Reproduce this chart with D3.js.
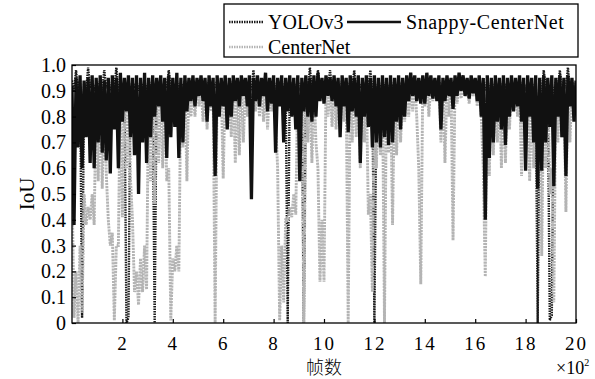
<!DOCTYPE html>
<html>
<head>
<meta charset="utf-8">
<script src="https://cdn.jsdelivr.net/npm/d3@7"></script>
<style>
  body { margin: 0; background: #fff; }
  text { font-family: "Liberation Serif", "Times New Roman", serif; fill: #000; }
</style>
</head>
<body>
<div id="chart"></div>
<script>
// one value every 8 frames, IoU in percent
const frameStep = 8;

const yolov3 = [
  94,90,98,90,94,2,93,90,99,91, 94,90,93,91,94,90,98,91,93,90,
  94,91,99,90,93,91,94,0,2,90, 94,91,93,90,94,91,93,90,94,91,
  93,0,94,91,93,90,94,91,98,90, 93,91,94,90,93,91,94,90,93,91,
  94,90,93,91,94,90,93,91,94,90, 93,91,94,90,93,91,94,90,93,91,
  94,90,93,91,94,90,93,91,94,90, 98,91,94,90,93,91,94,90,93,91,
  94,90,93,91,94,90,93,0,94,91, 93,90,94,91,93,0,94,90,99,91,
  94,90,98,91,94,90,93,91,98,90, 94,91,93,90,94,91,93,90,94,91,
  98,90,94,91,93,90,94,91,98,90, 0,91,93,90,94,91,93,90,94,91,
  93,90,94,91,93,90,94,91,93,90, 94,91,93,90,94,91,93,90,94,91,
  93,90,94,91,93,90,94,91,93,90, 94,91,93,90,94,91,93,90,94,91,
  93,90,94,91,93,90,94,91,93,90, 94,91,93,90,94,91,93,90,94,91,
  93,90,94,91,93,90,94,91,93,90, 94,0,93,90,98,91,93,1,3,90,
  94,91,98,90,94,91,99,90,94,91, 93
];

const centerNet = [
  55,2,20,0,30,4,50,38,45,40, 50,38,90,55,92,52,90,58,40,30,
  35,1,30,30,93,41,92,60,93,56, 40,12,20,7,25,12,30,13,92,55,
  93,46,92,62,93,60,92,55,60,1, 25,20,30,20,92,68,93,55,94,80,
  93,80,94,84,93,78,94,75,93,82, 92,0,93,80,92,56,94,78,93,72,
  94,62,93,65,94,70,93,80,94,76, 93,82,94,80,93,78,94,75,93,82,
  94,78,60,1,30,8,40,40,45,41, 50,42,93,60,92,0,93,70,92,62,
  93,70,60,16,40,16,93,80,94,76, 93,75,94,82,93,78,92,0,93,70,
  94,72,93,60,94,70,93,42,50,12, 92,60,93,65,92,0,93,66,92,38,
  93,65,94,70,93,78,94,80,93,82, 94,80,60,15,93,84,94,80,93,86,
  94,88,93,70,94,62,93,80,94,32, 93,85,94,87,93,88,94,85,93,88,
  94,84,93,80,60,18,93,57,94,65, 93,70,94,60,93,62,94,75,93,82,
  94,80,93,57,94,70,93,55,94,60, 93,60,94,26,93,60,94,50,60,8,
  93,70,94,72,93,43,94,70,93,80, 93
];

const snappy = [
  92,38,95,68,96,60,94,72,95,62, 96,60,95,70,96,66,94,63,95,58,
  96,75,95,60,97,78,95,82,96,72, 95,65,96,50,95,70,97,62,95,72,
  96,80,95,84,96,78,95,64,96,72, 95,76,97,64,95,70,96,82,95,86,
  96,84,95,88,96,86,95,78,96,84, 95,57,96,80,95,84,96,75,95,80,
  96,86,95,84,96,88,95,84,96,48, 95,86,96,84,95,88,97,82,95,85,
  96,66,95,84,96,70,95,82,96,80, 95,75,96,55,95,82,96,80,95,78,
  96,80,97,86,95,85,96,88,95,86, 96,84,95,72,96,84,95,74,96,82,
  95,80,96,62,95,80,96,76,95,68, 96,70,95,68,96,72,95,69,96,70,
  95,78,96,75,95,80,96,86,97,88, 96,86,95,85,96,85,97,88,96,87,
  95,86,96,75,95,86,96,88,95,83, 96,88,97,90,96,88,95,87,96,89,
  95,86,96,80,95,40,96,64,95,70, 96,78,95,75,96,69,95,80,96,82,
  95,84,96,78,95,59,96,80,95,70, 96,52,95,59,96,70,95,76,96,53,
  95,80,96,72,95,57,96,84,95,78, 94
];

const xTickValues = [200, 400, 600, 800, 1000, 1200, 1400, 1600, 1800, 2000];
const xTickLabels = ["2", "4", "6", "8", "10", "12", "14", "16", "18", "20"];
const yTickValues = [0, 10, 20, 30, 40, 50, 60, 70, 80, 90, 100];
const yTickLabels = ["0", "0.1", "0.2", "0.3", "0.4", "0.5", "0.6", "0.7", "0.8", "0.9", "1.0"];

const legendNames = ["YOLOv3", "Snappy-CenterNet", "CenterNet"];

const width = 595;
const height = 379;
const margin = { top: 65, right: 19, bottom: 56, left: 72 };
const w = width - margin.left - margin.right;
const h = height - margin.top - margin.bottom;

const svg = d3.select("#chart").append("svg")
  .attr("width", width)
  .attr("height", height);

const g = svg.append("g").attr("transform", `translate(${margin.left},${margin.top})`);

const x = d3.scaleLinear().domain([0, 2000]).range([0, w]);
const y = d3.scaleLinear().domain([0, 100]).range([h, 0]);

g.append("clipPath").attr("id", "plotclip")
  .append("rect").attr("width", w).attr("height", h);

const line = d3.line()
  .x((d, i) => x(i * frameStep))
  .y(d => y(d));

const plot = g.append("g").attr("clip-path", "url(#plotclip)");

// yolo first, centernet over it, snappy on top
plot.append("path")
  .datum(yolov3)
  .attr("fill", "none")
  .attr("stroke", "#1a1a1a")
  .attr("stroke-width", 2.4)
  .attr("stroke-dasharray", "1.5,1")
  .attr("d", line);

plot.append("path")
  .datum(centerNet)
  .attr("fill", "none")
  .attr("stroke", "#b4b4b4")
  .attr("stroke-width", 2.9)
  .attr("stroke-dasharray", "2.2,0.9")
  .attr("d", line);

plot.append("path")
  .datum(snappy)
  .attr("fill", "none")
  .attr("stroke", "#111")
  .attr("stroke-width", 3.3)
  .attr("d", line);

// axes, ticks pointing inward
const xAxis = d3.axisBottom(x)
  .tickValues(xTickValues)
  .tickFormat((d, i) => xTickLabels[i])
  .tickSizeInner(-4)
  .tickSizeOuter(0);

const gx = g.append("g")
  .attr("transform", `translate(0,${h})`)
  .call(xAxis);
gx.select(".domain").remove();
gx.selectAll("line").attr("stroke", "#000").attr("stroke-width", 1.2);
gx.selectAll("text")
  .attr("y", 27)
  .attr("dy", null)
  .attr("font-size", 19)
  .attr("letter-spacing", 2)
  .style("font-family", "Liberation Serif");

const yAxis = d3.axisLeft(y)
  .tickValues(yTickValues)
  .tickFormat((d, i) => yTickLabels[i])
  .tickSizeInner(-4)
  .tickSizeOuter(0);

const gy = g.append("g").call(yAxis);
gy.select(".domain").remove();
gy.selectAll("line").attr("stroke", "#000").attr("stroke-width", 1.2);
gy.selectAll("text")
  .attr("x", -6)
  .attr("font-size", 20)
  .style("font-family", "Liberation Serif");

g.append("rect")
  .attr("width", w)
  .attr("height", h)
  .attr("fill", "none")
  .attr("stroke", "#000")
  .attr("stroke-width", 1.3);

// axis titles
svg.append("text")
  .attr("transform", `translate(34,${margin.top + h / 2}) rotate(-90)`)
  .attr("text-anchor", "middle")
  .attr("font-size", 21)
  .text("IoU");

svg.append("text")
  .attr("x", margin.left + w / 2)
  .attr("y", 374)
  .attr("text-anchor", "middle")
  .attr("font-size", 18)
  .style("font-family", "'Noto Sans CJK SC'")
  .style("font-weight", 300)
  .text("帧数");

const mult = svg.append("text")
  .attr("x", 556)
  .attr("y", 374)
  .attr("font-size", 18);
mult.append("tspan").text("×10");
mult.append("tspan").attr("dy", -8).attr("font-size", 10).text("2");

// legend
const lg = svg.append("g");
lg.append("rect")
  .attr("x", 224).attr("y", 4)
  .attr("width", 354).attr("height", 53)
  .attr("fill", "#fff")
  .attr("stroke", "#000")
  .attr("stroke-width", 1.3);

const legendItems = [
  { name: legendNames[0], x: 229, y: 22, len: 34, color: "#1a1a1a", dash: "1.5,1", spacing: 0 },
  { name: legendNames[1], x: 347, y: 22, len: 54, color: "#111", dash: null, spacing: 0.6 },
  { name: legendNames[2], x: 229, y: 47, len: 34, color: "#b4b4b4", dash: "1.5,1", spacing: 0 }
];

legendItems.forEach(it => {
  lg.append("line")
    .attr("x1", it.x).attr("x2", it.x + it.len)
    .attr("y1", it.y).attr("y2", it.y)
    .attr("stroke", it.color)
    .attr("stroke-width", 2.5)
    .attr("stroke-dasharray", it.dash);
  lg.append("text")
    .attr("x", it.x + it.len + 5)
    .attr("y", it.y + 7)
    .attr("font-size", 20)
    .attr("letter-spacing", it.spacing)
    .text(it.name);
});
</script>
</body>
</html>
